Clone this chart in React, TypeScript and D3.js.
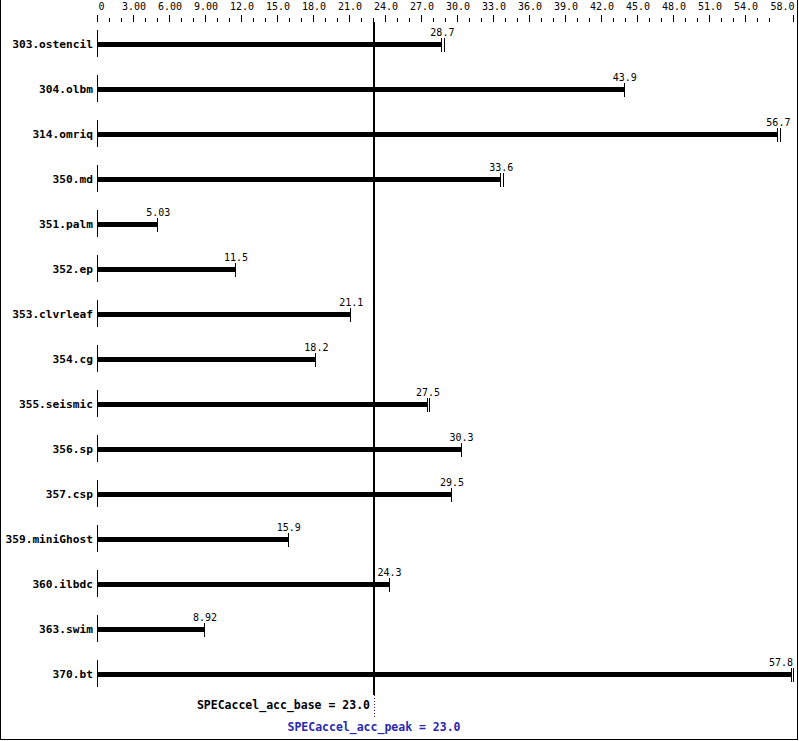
import React from "react";
import * as d3 from "d3";

const categories = ["303.ostencil","304.olbm","314.omriq","350.md","351.palm","352.ep","353.clvrleaf","354.cg","355.seismic","356.sp","357.csp","359.miniGhost","360.ilbdc","363.swim","370.bt"];
const baseValues = [28.7,43.9,56.7,33.6,5.03,11.5,21.1,18.2,27.5,30.3,29.5,15.9,24.3,8.92,57.8];
const peakValues = [28.9,43.9,56.9,33.8,5.03,11.5,21.1,18.2,27.7,30.3,29.5,15.9,24.3,8.92,58.0];
const baseLabels = ["28.7","43.9","56.7","33.6","5.03","11.5","21.1","18.2","27.5","30.3","29.5","15.9","24.3","8.92","57.8"];
const tickValues = [0,3,6,9,12,15,18,21,24,27,30,33,36,39,42,45,48,51,54,58];
const tickLabels = ["0","3.00","6.00","9.00","12.0","15.0","18.0","21.0","24.0","27.0","30.0","33.0","36.0","39.0","42.0","45.0","48.0","51.0","54.0","58.0"];
const minorTicks = d3.range(0, 58, 1).filter(v => v % 3 !== 0);
const baseScore = 23.0;
const peakScore = 23.0;
const baseText = "SPECaccel_acc_base = 23.0";
const peakText = "SPECaccel_acc_peak = 23.0";

const W = 799, H = 741;
const mono = "'DejaVu Sans Mono', 'Liberation Mono', monospace";
const BLUE = "#2828b0";

export default function App() {
  const x = d3.scaleLinear().domain([0, 58]).range([98, 794]);
  const y = d3.scalePoint<string>().domain(categories).range([43.7, 673.7]);
  const axisY = 22;

  return (
    <svg width={W} height={H} style={{ position: "absolute", left: 0, top: 0, background: "#fff" }}
      shapeRendering="crispEdges">
      <rect x={0} y={0} width={W} height={H} fill="#fff" />
      {/* border */}
      <line x1={0.5} y1={0} x2={0.5} y2={740} stroke="#000" />
      <line x1={797.5} y1={0} x2={797.5} y2={740} stroke="#000" />
      <line x1={0} y1={739.5} x2={798} y2={739.5} stroke="#000" />

      {/* top axis */}
      {tickValues.map((v, i) => {
        const px = Math.round(x(v)) - 0.5;
        const isLast = i === tickValues.length - 1;
        return (
          <g key={"t" + i}>
            <line x1={px} x2={px} y1={axisY - 7} y2={axisY} stroke="#000" />
            <text x={isLast ? px + 1 : i === 0 ? px + 1 : px + 0.5} y={10} fontFamily={mono} fontSize={10}
              textAnchor={isLast ? "end" : i === 0 ? "start" : "middle"} fill="#000">{tickLabels[i]}</text>
          </g>
        );
      })}
      {minorTicks.map(v => {
        const px = Math.round(x(v)) - 0.5;
        return <line key={"m" + v} x1={px} x2={px} y1={axisY - 4} y2={axisY} stroke="#000" />;
      })}

      {/* rows */}
      {categories.map((c, i) => {
        const cy = y(c)!;
        const xb = x(baseValues[i]);
        const xp = x(peakValues[i]);
        const tb = Math.round(xb) - 0.5;
        const tp = Math.round(xp) - 0.5;
        const lbl = baseLabels[i];
        const lw = lbl.length * 6.02;
        let lx = xb;
        if (lx + lw / 2 > 793) lx = 793 - lw / 2;
        return (
          <g key={c}>
            <text x={93} y={cy + 4} textAnchor="end" fontFamily={mono} fontSize={11.2} fontWeight="bold" fill="#000">{c}</text>
            <line x1={97.5} x2={97.5} y1={cy - 13.5} y2={cy + 13.5} stroke="#000" />
            <rect x={98} y={Math.round(cy) - 2} width={xb - 98} height={5} fill="#000" />
            <line x1={tb} x2={tb} y1={cy - 5.5} y2={cy + 8.5} stroke="#000" />
            {tp !== tb && <line x1={tp} x2={tp} y1={cy - 5.5} y2={cy + 8.5} stroke="#000" />}
            <text x={lx} y={cy - 7.5} textAnchor="middle" fontFamily={mono} fontSize={10} fill="#000">{lbl}</text>
          </g>
        );
      })}

      {/* reference lines */}
      <rect x={x(baseScore) - 1} y={axisY} width={2} height={695 - axisY} fill="#000" />
      <line x1={x(peakScore) + 0.5} x2={x(peakScore) + 0.5} y1={695} y2={718} stroke={BLUE} strokeDasharray="1,2" />
      <text x={x(baseScore) - 4} y={709} textAnchor="end" fontFamily={mono} fontSize={11.5} fontWeight="bold" fill="#000">{baseText}</text>
      <text x={x(peakScore)} y={731} textAnchor="middle" fontFamily={mono} fontSize={11.5} fontWeight="bold" fill={BLUE}>{peakText}</text>
    </svg>
  );
}
